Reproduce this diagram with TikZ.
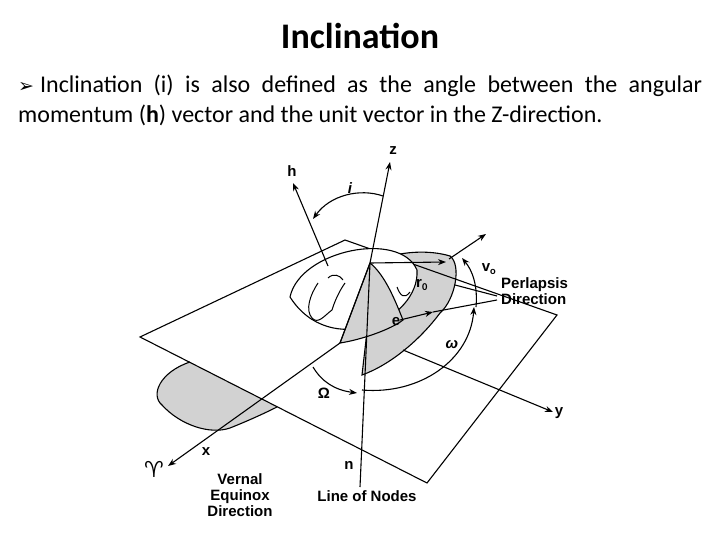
\documentclass[tikz,border=0pt]{standalone}
\usepackage{fontspec}
\setmainfont{Carlito}
\newfontfamily\arial{Liberation Sans}
\newfontfamily\dvs{DejaVu Sans}
\usetikzlibrary{arrows.meta}
\begin{document}
\begin{tikzpicture}[x=1pt,y=-1pt,
  ln/.style={line width=1.1pt},
  vec/.style={line width=1.1pt,-{Stealth[length=8pt,width=6pt]}},
  lab/.style={font=\arial\bfseries\fontsize{15}{16}\selectfont,inner sep=0pt,align=center},
  shade/.style={fill=gray!35}]
\useasboundingbox (0,0) rectangle (720,540);
\node (title) at (360,36) {\bfseries\fontsize{36}{38}\selectfont Inclination};
\node[anchor=north west,inner sep=0] (para) at (18,75) {\parbox{684pt}{\fontsize{24}{30}\selectfont\hyphenpenalty=10000{\dvs\fontsize{19}{20}\selectfont ➢}\hspace{6pt}Inclination (i) is also defined as the angle between the angular\linebreak momentum (\textbf{h}) vector and the unit vector in the Z-direction.}};
% plane
\coordinate (L) at (140,337);
\coordinate (T) at (345,240);
\coordinate (R) at (557,315);
\coordinate (B) at (427,483);
% lower lobe of orbit (below plane)
\draw[ln,shade] (190,362) .. controls (160,372) and (150,395) .. (162,405) .. controls (180,425) and (210,435) .. (230,428) .. controls (250,420) and (265,413) .. (277,407);
% upper part of orbit
\coordinate (apex) at (370,263);
\draw[ln,shade] (apex) .. controls (400,250) and (430,250) .. (450,256) .. controls (462,265) and (455,300) .. (440,313) .. controls (420,340) and (390,365) .. (362,375) -- (366,340) -- cycle;
\draw[ln] (L) -- (T) -- (R) -- (B) -- cycle;
% earth
\draw[ln,fill=white] (290,297) .. controls (300,250) and (400,230) .. (417,270) .. controls (420,320) and (330,360) .. (290,297) -- cycle;
\draw[ln,shade] (apex) -- (340,343) .. controls (360,340) and (390,330) .. (403,320) .. controls (395,300) and (385,275) .. (apex);
\draw[line width=1pt] (318,283) .. controls (310,295) and (305,310) .. (312,318) .. controls (318,325) and (325,315) .. (332,310) .. controls (335,300) and (340,290) .. (345,283);
\draw[line width=1pt] (397,287) .. controls (400,295) and (404,300) .. (410,292);
\draw[line width=1pt] (328,278) .. controls (333,273) and (340,275) .. (343,280);
% axes
\node[lab] (z) at (393,151) {z};
\draw[vec] (apex) -- (390,162);
\draw[ln] (apex) -- (360,487);
\node[lab] (n) at (349,465) {n};
\draw[ln] (340,343) -- (apex);
\draw[vec] (340,343) -- (168,466);
\node[lab] (x) at (206,452) {x};
\node (gam) at (154,469) {\dvs\fontsize{22}{22}\selectfont ♈};
\draw[vec] (403,350) -- (553,412);
\node[lab] (y) at (559,413) {y};
\draw[vec] (328,266) -- (293,183);
\node[lab] (h) at (292,171) {h};
% i arc
\draw[vec] (383,196) .. controls (360,188) and (330,195) .. (313,219);
\node[lab,font=\arial\bfseries\itshape\fontsize{15}{16}\selectfont] (i) at (350,188) {i};
% perigee
\draw[vec] (400,320) -- (433,312);
\draw[ln] (433,312) -- (497,300);
\draw[ln] (455,285) -- (497,296);
\node[lab] (e) at (396,322) {e};
\draw[vec] (apex) -- (446,262);
\node[lab] (r0) at (422,285) {r$_\mathbf{0}$};
\draw[vec] (449,259) -- (486,234);
\node[lab] (v0) at (489,269) {v$_\mathbf{o}$};
\node[lab,align=left,anchor=west] (per) at (501,291) {Perlapsis\\Direction};
% Omega arc
\draw[vec] (313,367) .. controls (322,382) and (335,390) .. (357,393);
\node[lab] (Om) at (324,393) {Ω};
% omega arc
\draw[vec] (362,390) .. controls (420,395) and (470,360) .. (474,307);
\node[lab,font=\arial\bfseries\itshape\fontsize{15}{16}\selectfont] (om) at (452,345) {ω};
\draw[vec] (476,307) .. controls (478,285) and (472,270) .. (462,258);
\node[lab] (ve) at (240,495) {Vernal\\Equinox\\Direction};
\node[lab] (lon) at (367,496) {Line of Nodes};
\end{tikzpicture}
\end{document}
